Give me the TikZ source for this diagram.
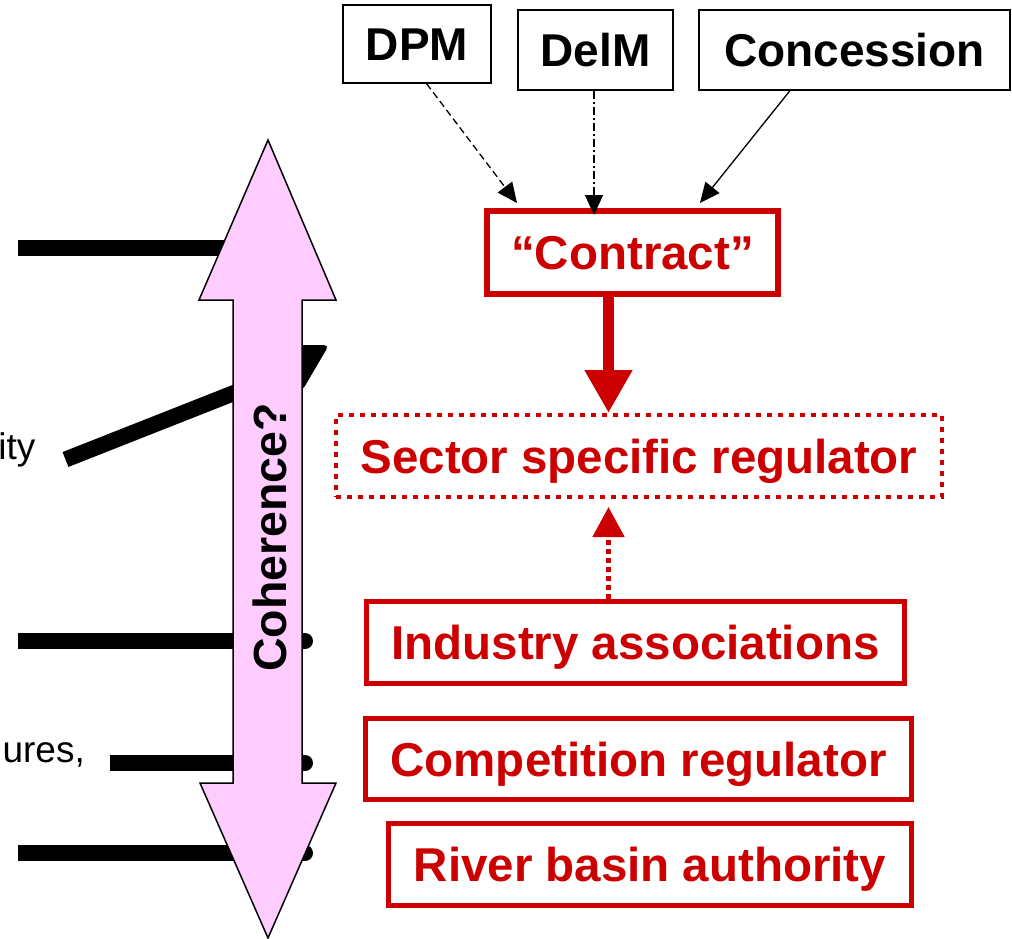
\documentclass[tikz,border=0pt]{standalone}
\usepackage{fontspec}
\setmainfont{Liberation Sans}
\usetikzlibrary{arrows.meta}
\definecolor{rred}{RGB}{204,0,0}
\definecolor{ppink}{RGB}{255,204,255}
\begin{document}
\begin{tikzpicture}[x=1pt,y=-1pt,
  topbox/.style={draw=black, line width=1.2pt, inner sep=0pt,
    font=\fontsize{46}{50}\selectfont\bfseries, text height=33pt, text depth=0pt},
  redbox/.style={draw=rred, text=rred, line width=5pt, inner sep=0pt,
    font=\fontsize{47.5}{50}\selectfont\bfseries, text height=34pt, text depth=0pt},
  blackarrow/.style={draw=black, line width=1.3pt, -{Triangle[length=20pt,width=18pt]}},
  thickline/.style={draw=black, line width=16pt, line cap=butt},
  lefttext/.style={anchor=base east, inner sep=0pt, font=\fontsize{37}{40}\selectfont}
]
\useasboundingbox (0,0) rectangle (1012,939);

% left black lines (behind the big arrow)
\coordinate (l1a) at (18,248);   \coordinate (l1b) at (265,248);
\coordinate (l2a) at (65.5,459.5); \coordinate (l2b) at (310,363);
\coordinate (l3a) at (18,641);   \coordinate (l3b) at (305,641);
\coordinate (l4a) at (110,763);  \coordinate (l4b) at (305,763);
\coordinate (l5a) at (18,853);   \coordinate (l5b) at (305,853);
\draw[thickline] (l1a) -- (l1b);
\draw[thickline] (l2a) -- (l2b);
\fill[black, rounded corners=5pt] (292,345) -- (329,345) -- (302,391) -- (292,391) -- cycle;
\draw[thickline] (l3a) -- (l3b); \fill (l3b) circle (8);
\draw[thickline] (l4a) -- (l4b); \fill (l4b) circle (8);
\draw[thickline] (l5a) -- (l5b); \fill (l5b) circle (8);

\node[lefttext] (ity) at (35.5,459) {ity};
\node[lefttext] (ures) at (85,762) {ures,};

% pink double arrow
\draw[fill=ppink, draw=black, line width=1.5pt, line join=miter]
  (268,140) -- (336,300) -- (302,300) -- (302,783) -- (336,783) -- (268,938)
  -- (200,783) -- (233,783) -- (233,300) -- (199,300) -- cycle;
\node[rotate=90, inner sep=0pt, font=\fontsize{46.5}{50}\selectfont\bfseries,
  text height=33pt, text depth=0pt] (coh) at (270,537.5) {Coherence?};

% top boxes
\node[topbox, minimum width=148pt, minimum height=78pt] (dpm) at (417,44) {DPM};
\node[topbox, minimum width=155pt, minimum height=80pt] (delm) at (595.5,50) {DelM};
\node[topbox, minimum width=311pt, minimum height=80pt] (conc) at (854.5,50) {Concession};

% red boxes
\node[redbox, line width=6pt, minimum width=291pt, minimum height=83pt] (contract) at (632.5,252.5) {“Contract”};
\node[redbox, line width=4pt, dash pattern=on 5pt off 6pt, minimum width=606pt, minimum height=82pt] (sector) at (639,456) {Sector specific regulator};
\node[redbox, minimum width=538pt, minimum height=82pt] (industry) at (635.5,642.5) {Industry associations};
\node[redbox, minimum width=546pt, minimum height=81pt] (comp) at (638.5,759) {Competition regulator};
\node[redbox, minimum width=523pt, minimum height=82pt] (river) at (650,864.5) {River basin authority};

% black arrows into contract
\coordinate (dpmS) at ([xshift=9.5pt]dpm.south);
\coordinate (dpmE) at ([xshift=-115.5pt,yshift=5pt]contract.north);
\coordinate (delmS) at ([xshift=-1.5pt]delm.south);
\coordinate (delmE) at ([xshift=-38.5pt,yshift=-7pt]contract.north);
\coordinate (concS) at ([xshift=-64.5pt]conc.south);
\coordinate (concE) at ([xshift=67.5pt,yshift=5pt]contract.north);
\draw[blackarrow, dash pattern=on 7pt off 4pt] (dpmS) -- (dpmE);
\draw[blackarrow, dash pattern=on 8pt off 3pt on 2pt off 3pt] (delmS) -- (delmE);
\draw[blackarrow] (concS) -- (concE);

% red arrows
\coordinate (ia) at (608.5,0);
\coordinate (ss) at ([yshift=-8pt]sector.south);
\draw[rred, line width=11pt, -{Triangle[length=43pt,width=45pt]}] (ia |- contract.south) -- (ia |- sector.north);
\draw[rred, line width=5pt, dash pattern=on 5pt off 4pt, -{Triangle[length=30pt,width=31pt]}] (ia |- industry.north) -- (ia |- ss);
\end{tikzpicture}
\end{document}
